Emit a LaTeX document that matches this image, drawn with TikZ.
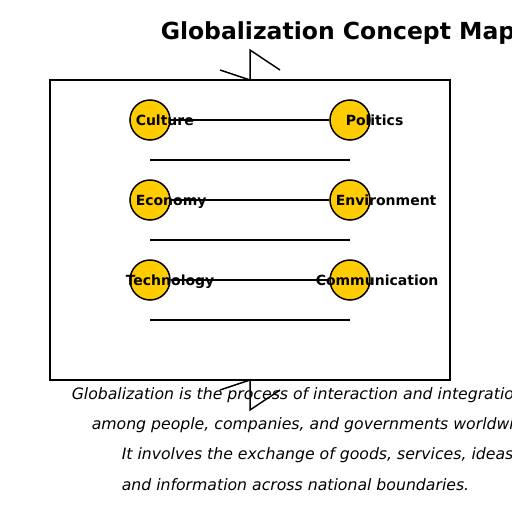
\documentclass[tikz,border=0pt]{standalone}
\usepackage{fontspec}
\setmainfont{DejaVu Sans}
\definecolor{gold}{HTML}{FFCC00}

\begin{document}
\begin{tikzpicture}[x=1pt,y=-1pt,line width=1.5pt,
  concept/.style={shape=circle,draw=black,fill=gold,minimum size=40pt,inner sep=0pt},
  word/.style={anchor=base west,inner sep=0pt,font=\bfseries\fontsize{14}{16}\selectfont},
  caption/.style={anchor=west,inner sep=0pt,font=\itshape\fontsize{15.7}{18}\selectfont}]
  \useasboundingbox (0,0) rectangle (512,512);
  \node[anchor=base west,inner sep=0pt,font=\bfseries\fontsize{23.5}{28}\selectfont] (title) at (160,39.5) {Globalization Concept Map};
  \draw (50,80) rectangle (450,380);
  \draw (220,70) -- (250,80) -- (250,50) -- (280,70);
  \draw (220,390) -- (250,380) -- (250,410) -- (280,390);
  \node[concept] (cul) at (150,120) {};
  \node[concept] (pol) at (350,120) {};
  \node[concept] (eco) at (150,200) {};
  \node[concept] (env) at (350,200) {};
  \node[concept] (tec) at (150,280) {};
  \node[concept] (com) at (350,280) {};
  \draw (cul) to (pol);
  \draw (eco) to (env);
  \draw (tec) to (com);
  \draw ([yshift=-40pt]cul.center) to ([yshift=-40pt]pol.center);
  \draw ([yshift=-40pt]eco.center) to ([yshift=-40pt]env.center);
  \draw ([yshift=-40pt]tec.center) to ([yshift=-40pt]com.center);
  \node[word] at (135,125.5) {Culture};
  \node[word] at (345,125.5) {Politics};
  \node[word] at (135,205.5) {Economy};
  \node[word] at (335,205.5) {Environment};
  \node[word] at (125,285.5) {Technology};
  \node[word] at (315,285.5) {Communication};
  \node[caption] at (71,395) {Globalization is the process of interaction and integration};
  \node[caption] at (91,425) {among people, companies, and governments worldwide.};
  \node[caption] at (121,455) {It involves the exchange of goods, services, ideas,};
  \node[caption] at (121,485) {and information across national boundaries.};
\end{tikzpicture}
\end{document}
